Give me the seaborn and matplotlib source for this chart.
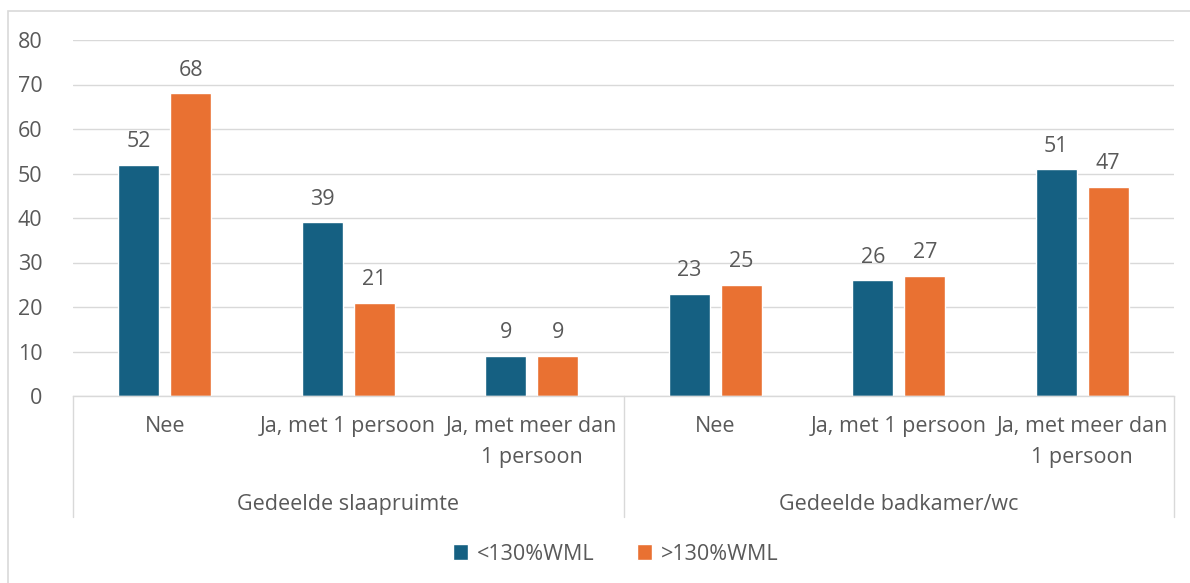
import pandas as pd
import numpy as np
import matplotlib.pyplot as plt
import seaborn as sns
from matplotlib.patches import Rectangle

# data
groups = ["Gedeelde slaapruimte", "Gedeelde badkamer/wc"]
answers = ["Nee", "Ja, met 1 persoon", "Ja, met meer dan\n1 persoon"]
series = ["<130%WML", ">130%WML"]
low_vals = [52, 39, 9, 23, 26, 51]
high_vals = [68, 21, 9, 25, 27, 47]
colors = ["#156082", "#E97132"]
text_col = "#595959"
grid_col = "#d9d9d9"
fs = 15.5

cats = [f"{g}|{a}" for g in groups for a in answers]
df = pd.DataFrame({
    "cat": cats * 2,
    "serie": [series[0]] * 6 + [series[1]] * 6,
    "waarde": low_vals + high_vals,
})

sns.set_style("white")
plt.rcParams["font.family"] = ["Open Sans", "DejaVu Sans"]

fig = plt.figure(figsize=(11.9, 5.83), dpi=100)
ax = fig.add_axes([73 / 1190, 1 - 396 / 583, (1174 - 73) / 1190, (396 - 40) / 583])

sns.barplot(data=df, x="cat", y="waarde", hue="serie", order=cats,
            hue_order=series, palette=colors, width=0.567, gap=0.21,
            saturation=1, ax=ax, legend=True)

for cont in ax.containers:
    ax.bar_label(cont, fmt="%d", padding=9, fontsize=fs, color=text_col)

ax.set_ylim(0, 80)
ax.set_xlim(-0.5, 5.5)
ax.set_yticks(range(0, 81, 10))
ax.yaxis.grid(True, color=grid_col, linewidth=1)
ax.set_axisbelow(True)
ax.tick_params(axis="y", length=0, pad=22, labelsize=fs, labelcolor=text_col)
ax.set_xticks([])
ax.set_xlabel("")
ax.set_ylabel("")
for s in ["top", "right", "left"]:
    ax.spines[s].set_visible(False)
ax.spines["bottom"].set_color(grid_col)
ax.spines["bottom"].set_linewidth(1)

# category labels (two tiers)
trans = ax.get_xaxis_transform()
for i, c in enumerate(cats):
    ax.text(i, -0.055, c.split("|")[1], transform=trans, ha="center", va="top",
            fontsize=fs, color=text_col, linespacing=1.65, multialignment="center")
for j, g in enumerate(groups):
    ax.text(j * 3 + 1, -0.275, g, transform=trans, ha="center", va="top",
            fontsize=fs, color=text_col)
for xpos in [-0.5, 2.5, 5.5]:
    ax.plot([xpos, xpos], [0, -0.34], transform=trans, color=grid_col,
            linewidth=1, clip_on=False)

leg = ax.legend(loc="upper center", bbox_to_anchor=(0.493, -0.36), ncol=2,
                frameon=False, fontsize=fs, handlelength=0.7, handleheight=0.7,
                columnspacing=2.0, handletextpad=0.4)
for t in leg.get_texts():
    t.set_color(text_col)

# chart border
fig.patches.append(Rectangle((8 / 1190, -0.1), 1.2, 1 - 11 / 583 + 0.1,
                             transform=fig.transFigure, fill=False,
                             edgecolor=grid_col, linewidth=1.2))

fig.savefig("out.png", dpi=100, facecolor="white")
